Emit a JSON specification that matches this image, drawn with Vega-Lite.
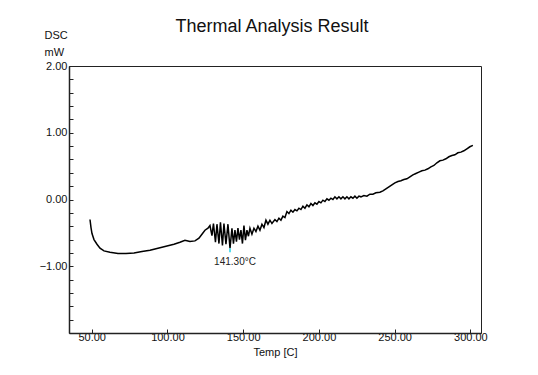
{
  "$schema": "https://vega.github.io/schema/vega-lite/v6.json",
  "autosize": {"type": "none"},
  "width": 412,
  "height": 267,
  "padding": {"left": 69, "top": 66, "right": 57, "bottom": 42},
  "background": "white",
  "config": {
    "font": "Liberation Sans",
    "view": {"stroke": "#222", "strokeWidth": 1},
    "axis": {"grid": false, "domainColor": "#222", "tickColor": "#222", "labelColor": "#111", "titleColor": "#111", "labelFont": "Liberation Sans", "titleFont": "Liberation Sans", "labelFontSize": 11, "titleFontSize": 12, "titleFontWeight": "normal"}
  },
  "title": {"text": "Thermal Analysis Result", "fontSize": 18, "fontWeight": "normal", "font": "Liberation Sans", "color": "#111", "anchor": "middle", "frame": "group", "offset": -7, "dx": -3},
  "datasets": {
    "curve": [
      {"t": 48.86, "v": -0.30}, {"t": 49.52, "v": -0.42}, {"t": 50.18, "v": -0.51}, {"t": 51.50, "v": -0.60}, {"t": 53.48, "v": -0.67},
      {"t": 55.46, "v": -0.73}, {"t": 58.10, "v": -0.77}, {"t": 62.06, "v": -0.79}, {"t": 67.34, "v": -0.81}, {"t": 72.62, "v": -0.81},
      {"t": 77.90, "v": -0.80}, {"t": 83.18, "v": -0.78}, {"t": 88.46, "v": -0.76}, {"t": 93.74, "v": -0.73}, {"t": 99.02, "v": -0.70},
      {"t": 104.30, "v": -0.67}, {"t": 108.26, "v": -0.64}, {"t": 111.56, "v": -0.61}, {"t": 114.86, "v": -0.63}, {"t": 118.16, "v": -0.62},
      {"t": 120.80, "v": -0.58}, {"t": 122.78, "v": -0.52}, {"t": 124.76, "v": -0.46}, {"t": 126.74, "v": -0.43},
      {"t": 128.06, "v": -0.39}, {"t": 129.38, "v": -0.54}, {"t": 130.37, "v": -0.36}, {"t": 131.69, "v": -0.64}, {"t": 132.68, "v": -0.37},
      {"t": 134.00, "v": -0.66}, {"t": 134.99, "v": -0.34}, {"t": 136.31, "v": -0.69}, {"t": 137.30, "v": -0.36}, {"t": 138.62, "v": -0.67},
      {"t": 139.94, "v": -0.37}, {"t": 141.30, "v": -0.73}, {"t": 142.58, "v": -0.43}, {"t": 143.57, "v": -0.66}, {"t": 144.56, "v": -0.46},
      {"t": 145.55, "v": -0.63}, {"t": 146.54, "v": -0.43}, {"t": 147.53, "v": -0.60}, {"t": 148.52, "v": -0.46}, {"t": 149.51, "v": -0.66},
      {"t": 150.50, "v": -0.39}, {"t": 151.49, "v": -0.61}, {"t": 152.48, "v": -0.46}, {"t": 153.47, "v": -0.55}, {"t": 154.46, "v": -0.43},
      {"t": 155.78, "v": -0.52}, {"t": 157.10, "v": -0.43}, {"t": 158.42, "v": -0.48}, {"t": 159.74, "v": -0.40}, {"t": 161.06, "v": -0.46},
      {"t": 162.38, "v": -0.37}, {"t": 163.70, "v": -0.42}, {"t": 165.02, "v": -0.31}, {"t": 166.34, "v": -0.37}, {"t": 167.66, "v": -0.31},
      {"t": 168.98, "v": -0.36}, {"t": 170.96, "v": -0.30}, {"t": 172.28, "v": -0.33}, {"t": 173.60, "v": -0.28}, {"t": 174.92, "v": -0.31},
      {"t": 176.24, "v": -0.25}, {"t": 177.56, "v": -0.27}, {"t": 178.88, "v": -0.18}, {"t": 180.20, "v": -0.21}, {"t": 181.52, "v": -0.16},
      {"t": 182.84, "v": -0.19}, {"t": 184.16, "v": -0.15}, {"t": 185.48, "v": -0.17}, {"t": 186.80, "v": -0.13}, {"t": 188.12, "v": -0.15},
      {"t": 189.44, "v": -0.10}, {"t": 190.76, "v": -0.13}, {"t": 192.08, "v": -0.08}, {"t": 193.40, "v": -0.11}, {"t": 194.72, "v": -0.06},
      {"t": 196.04, "v": -0.09}, {"t": 197.36, "v": -0.05}, {"t": 198.68, "v": -0.07}, {"t": 200.00, "v": -0.03}, {"t": 201.32, "v": -0.05},
      {"t": 202.64, "v": -0.01}, {"t": 203.96, "v": -0.03}, {"t": 205.28, "v": 0.01}, {"t": 206.60, "v": -0.01}, {"t": 207.92, "v": 0.02},
      {"t": 209.24, "v": 0.00}, {"t": 210.56, "v": 0.04}, {"t": 211.88, "v": 0.01}, {"t": 213.20, "v": 0.04}, {"t": 214.52, "v": 0.01},
      {"t": 215.84, "v": 0.04}, {"t": 217.16, "v": 0.01}, {"t": 218.48, "v": 0.04}, {"t": 219.80, "v": 0.01}, {"t": 221.12, "v": 0.04},
      {"t": 222.44, "v": 0.02}, {"t": 223.76, "v": 0.05}, {"t": 225.08, "v": 0.02}, {"t": 226.40, "v": 0.05}, {"t": 227.72, "v": 0.04},
      {"t": 229.70, "v": 0.06}, {"t": 231.68, "v": 0.05}, {"t": 233.66, "v": 0.08}, {"t": 235.64, "v": 0.08}, {"t": 237.62, "v": 0.10},
      {"t": 240.26, "v": 0.11}, {"t": 242.24, "v": 0.13}, {"t": 244.22, "v": 0.16}, {"t": 246.20, "v": 0.19}, {"t": 248.18, "v": 0.22},
      {"t": 250.16, "v": 0.25}, {"t": 252.14, "v": 0.27}, {"t": 254.12, "v": 0.28}, {"t": 256.10, "v": 0.30}, {"t": 258.08, "v": 0.31},
      {"t": 260.06, "v": 0.34}, {"t": 262.04, "v": 0.37}, {"t": 264.02, "v": 0.39}, {"t": 266.00, "v": 0.41}, {"t": 267.98, "v": 0.43},
      {"t": 269.96, "v": 0.44}, {"t": 271.94, "v": 0.46}, {"t": 273.92, "v": 0.49}, {"t": 275.90, "v": 0.51}, {"t": 277.88, "v": 0.55},
      {"t": 279.86, "v": 0.58}, {"t": 281.84, "v": 0.59}, {"t": 283.82, "v": 0.61}, {"t": 285.80, "v": 0.64}, {"t": 287.78, "v": 0.66},
      {"t": 289.76, "v": 0.67}, {"t": 291.74, "v": 0.70}, {"t": 293.72, "v": 0.71}, {"t": 295.70, "v": 0.73}, {"t": 297.68, "v": 0.76},
      {"t": 299.66, "v": 0.79}, {"t": 301.64, "v": 0.81}
    ],
    "peak": [{"t": 141.3, "v": -0.73, "v2": -0.79, "label": "141.30°C"}]
  },
  "layer": [
    {
      "data": {"name": "curve"},
      "mark": {"type": "line", "color": "#000", "strokeWidth": 1.5, "interpolate": "linear"},
      "encoding": {
        "x": {"field": "t", "type": "quantitative", "scale": {"domain": [35, 307], "nice": false, "zero": false},
          "axis": {"title": "Temp [C]", "values": [50, 100, 150, 200, 250, 300], "tickCount": 50, "format": ".2f", "tickSize": -4, "labelPadding": 2, "titleFontSize": 11, "titlePadding": 4, "domainWidth": 1.5, "labelOverlap": false}},
        "y": {"field": "v", "type": "quantitative", "scale": {"domain": [-2, 2], "nice": false, "zero": false},
          "axis": {"title": ["DSC", "mW"], "titleAngle": 0, "titleAlign": "left", "titleBaseline": "middle", "titleX": -25, "titleY": -31, "titleLineHeight": 17, "titleFontSize": 11,
            "values": [-1.8, -1.6, -1.4, -1.2, -1.0, -0.8, -0.6, -0.4, -0.2, 0, 0.2, 0.4, 0.6, 0.8, 1.0, 1.2, 1.4, 1.6, 1.8, 2.0], "tickCount": 50, "labelOverlap": false,
            "labelExpr": "abs(datum.value - round(datum.value)) < 0.001 ? format(datum.value, '.2f') : ''", "tickSize": -4, "labelPadding": 6, "domainWidth": 1.5}}
      }
    },
    {
      "data": {"name": "peak"},
      "mark": {"type": "rule", "color": "#22d3e8", "strokeWidth": 1.5},
      "encoding": {"x": {"field": "t", "type": "quantitative"}, "y": {"field": "v", "type": "quantitative"}, "y2": {"field": "v2"}}
    },
    {
      "data": {"name": "peak"},
      "mark": {"type": "text", "fontSize": 10, "color": "#222", "dy": 14, "dx": 5, "font": "Liberation Sans"},
      "encoding": {"x": {"field": "t", "type": "quantitative"}, "y": {"field": "v", "type": "quantitative"}, "text": {"field": "label"}}
    }
  ]
}
